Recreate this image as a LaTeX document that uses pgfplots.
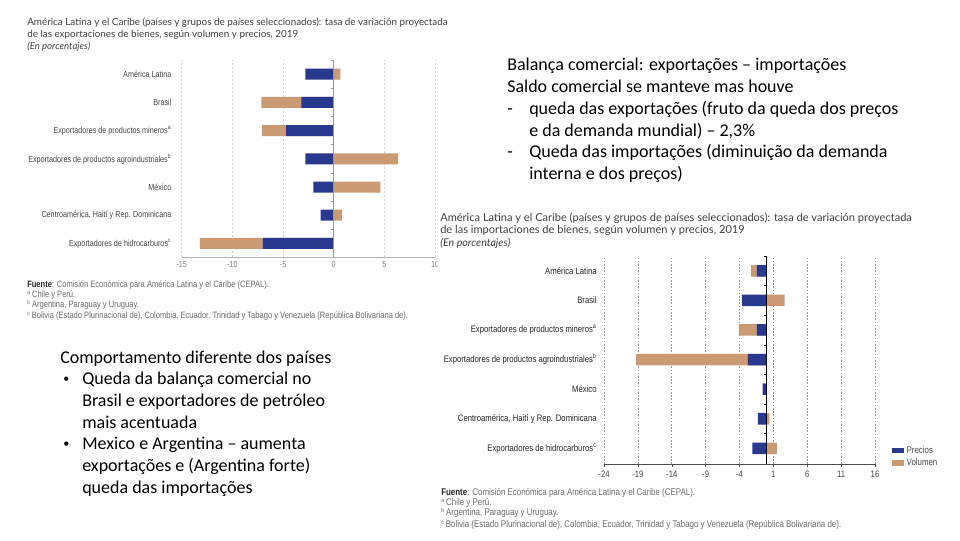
\documentclass[border=0pt]{standalone}
\usepackage{pgfplots}
\pgfplotsset{compat=1.18}
\usepackage{pgfplotstable}
\usepackage{fontspec}
\setmainfont{Carlito}
\newfontfamily\cond[FakeStretch=0.82]{Liberation Sans}
\newfontfamily\ttl{Lato}

\definecolor{precios}{HTML}{29398E}
\definecolor{volumen}{HTML}{C99A73}
\definecolor{lbl}{HTML}{444444}
\definecolor{note}{HTML}{6A6A6A}

% exportaciones; y: 0 = hidrocarburos ... 6 = America Latina
\pgfplotstableread{
y pre vol
0 -7.0 -6.2
1 -1.3 0.8
2 -2.0 4.6
3 -2.8 6.35
4 -4.7 -2.4
5 -3.2 -3.95
6 -2.8 0.65
}\expdata

% importaciones
\pgfplotstableread{
y pre vol
0 -2.1 1.5
1 -1.3 0.4
2 -0.6 0.0
3 -2.75 -16.5
4 -1.45 -2.65
5 -3.65 2.65
6 -1.45 -0.85
}\impdata

\pgfplotsset{
  cepal/.style={
    scale only axis,
    xbar, bar width=0.39, bar shift=0,
    ymax=6.5, ytick={0,...,6},
    yticklabels={Exportadores de hidrocarburos\textsuperscript{c},
      {Centroamérica, Haití y Rep. Dominicana}, México,
      Exportadores de productos agroindustriales\textsuperscript{b},
      Exportadores de productos mineros\textsuperscript{a},
      Brasil, América Latina},
    axis x line*=bottom, axis y line*=left,
    y axis line style={draw=none},
    ytick style={draw=none},
    xmajorgrids,
    /pgf/number format/assume math mode=true,
    clip=false,
  },
  volbar/.style={fill=volumen, draw=none},
  prebar/.style={fill=precios, draw=none},
}
\newcommand{\bul}{\raisebox{1pt}{\fontsize{9}{9}\selectfont\textbullet}}
\newcommand{\fn}[1]{\raisebox{2pt}{\fontsize{4.5}{5}\selectfont #1}}

\begin{document}
\begin{tikzpicture}
\begin{scope}[x=0.75pt,y=-0.75pt]
\fill[white] (0,0) rectangle (960,540);
\useasboundingbox (0,0) rectangle (960,540);

% chart 1 title and notes
\begin{scope}[every node/.style={anchor=base west, inner sep=0pt, text=black!75}]
\node[font=\ttl\fontsize{7.4}{9}\selectfont] at (27,25) {América Latina y el Caribe (países y grupos de países seleccionados): tasa de variación proyectada};
\node[font=\ttl\fontsize{7.4}{9}\selectfont] at (27,37) {de las exportaciones de bienes, según volumen y precios, 2019};
\node[font=\ttl\itshape\fontsize{7.2}{9}\selectfont] at (27,49) {(En porcentajes)};
\node[font=\cond\fontsize{6.9}{8}\selectfont, text=note] at (27,287) {\textbf{\color{black!85}Fuente}: Comisión Económica para América Latina y el Caribe (CEPAL).};
\node[font=\cond\fontsize{6.9}{8}\selectfont, text=note] at (27,297) {\fn{a} Chile y Perú.};
\node[font=\cond\fontsize{6.9}{8}\selectfont, text=note] at (27,307) {\fn{b} Argentina, Paraguay y Uruguay.};
\node[font=\cond\fontsize{6.9}{8}\selectfont, text=note] at (27,318) {\fn{c} Bolivia (Estado Plurinacional de), Colombia, Ecuador, Trinidad y Tabago y Venezuela (República Bolivariana de).};

% chart 2 title and notes
\node[font=\ttl\fontsize{8.3}{10}\selectfont] at (440,221) {América Latina y el Caribe (países y grupos de países seleccionados): tasa de variación proyectada};
\node[font=\ttl\fontsize{8.3}{10}\selectfont] at (440,233) {de las importaciones de bienes, según volumen y precios, 2019};
\node[font=\ttl\itshape\fontsize{8}{10}\selectfont] at (440,246) {(En porcentajes)};
\node[font=\cond\fontsize{7.25}{8}\selectfont, text=note] at (441,495) {\textbf{\color{black!85}Fuente}: Comisión Económica para América Latina y el Caribe (CEPAL).};
\node[font=\cond\fontsize{7.25}{8}\selectfont, text=note] at (441,505) {\fn{a} Chile y Perú.};
\node[font=\cond\fontsize{7.25}{8}\selectfont, text=note] at (441,515) {\fn{b} Argentina, Paraguay y Uruguay.};
\node[font=\cond\fontsize{7.25}{8}\selectfont, text=note] at (441,527) {\fn{c} Bolivia (Estado Plurinacional de), Colombia, Ecuador, Trinidad y Tabago y Venezuela (República Bolivariana de).};
\end{scope}

% slide text
\begin{scope}[every node/.style={anchor=base west, inner sep=0pt, text=black, font=\fontsize{13.5}{16}\selectfont}]
\node at (507,70) {Balança comercial: exportações – importações};
\node at (507,92) {Saldo comercial se manteve mas houve};
\node at (507,114) {-};
\node at (529,114) {queda das exportações (fruto da queda dos preços};
\node at (529,136) {e da demanda mundial) – 2,3\%};
\node at (507,157) {-};
\node at (529,157) {Queda das importações (diminuição da demanda};
\node at (529,179) {interna e dos preços)};

\node at (60,363) {Comportamento diferente dos países};
\node at (63,384) {\bul};
\node at (82,384) {Queda da balança comercial no};
\node at (82,406) {Brasil e exportadores de petróleo};
\node at (82,428) {mais acentuada};
\node at (63,449) {\bul};
\node at (82,449) {Mexico e Argentina – aumenta};
\node at (82,471) {exportações e (Argentina forte)};
\node at (82,493) {queda das importações};
\end{scope}
\end{scope}

% chart 1: exportaciones
\begin{scope}
\clip (0pt,0pt) rectangle (327.75pt,-247.5pt);
\begin{axis}[cepal, at={(136.3pt,-192.75pt)}, anchor=south west,
  width=190pt, height=147.75pt, xmin=-15, xmax=10, ymin=-0.48,
  xtick={-15,-10,...,10},
  major grid style={dash pattern=on 1.5pt off 1.5pt, gray!35, line width=0.4pt},
  x axis line style={gray!60},
  xtick style={draw=none},
  tick label style={font=\cond\fontsize{6.6}{8}\selectfont},
  xticklabel style={text=gray},
  yticklabel style={text=lbl}]
\addplot[volbar] table[x expr={ifthenelse(\thisrow{vol}<0,\thisrow{vol}+\thisrow{pre},\thisrow{vol})}, y=y]{\expdata};
\addplot[prebar] table[x=pre, y=y]{\expdata};
\draw[gray!80, line width=0.5pt] (0,-0.48) -- (0,6.5);
\pgfplotsinvokeforeach{0.5,1.5,2.5,3.5,4.5,5.5,6.5}{\draw[gray!80] (0,#1) -- ++(-2pt,0pt);}
\end{axis}
\end{scope}

% chart 2: importaciones
\begin{axis}[cepal, at={(453pt,-348pt)}, anchor=south west,
  width=203.25pt, height=156pt, xmin=-24, xmax=16, ymin=-0.53,
  xtick={-24,-19,...,16},
  major grid style={dash pattern=on 1.2pt off 1.2pt, gray!85, line width=0.45pt},
  x axis line style={black!70},
  xtick style={black!70}, tick align=outside, major tick length=2pt,
  tick label style={font=\cond\fontsize{7.05}{8}\selectfont},
  xticklabel style={text=lbl},
  yticklabel style={text=black!85},
  reverse legend,
  legend style={at={(1.062,-0.03)}, anchor=south west, draw=none, fill=none,
    font=\cond\fontsize{7.2}{8}\selectfont, row sep=-1.5pt, inner sep=0pt, text=lbl},
  legend cell align=left,
  legend image code/.code={\fill[#1] (0pt,-2.2pt) rectangle (9pt,2.2pt);}]
\addplot[volbar] table[x expr={ifthenelse(\thisrow{vol}<0,\thisrow{vol}+\thisrow{pre},\thisrow{vol})}, y=y]{\impdata};
\addplot[prebar] table[x=pre, y=y]{\impdata};
\legend{Volumen,Precios}
\draw[black, line width=0.6pt] (0,-0.53) -- (0,6.5);
\pgfplotsinvokeforeach{0.5,1.5,2.5,3.5,4.5,5.5,6.5}{\draw[black] (0,#1) -- ++(-2pt,0pt);}
\end{axis}
\end{tikzpicture}
\end{document}
